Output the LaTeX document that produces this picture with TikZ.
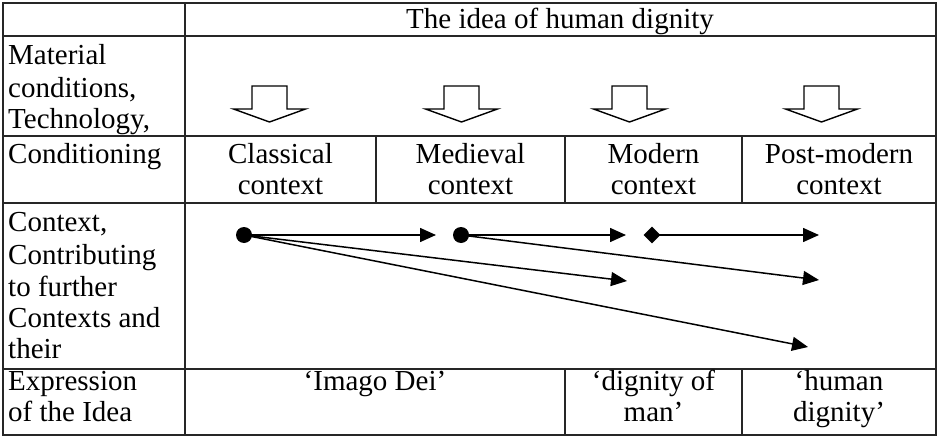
\documentclass[tikz,border=0pt]{standalone}
\usepackage{fontspec}
\setmainfont{Liberation Serif}
\usetikzlibrary{arrows.meta,shapes.geometric}
\begin{document}
\begin{tikzpicture}[x=1pt,y=-1pt,
  grid/.style={line width=1.4pt,draw=black!85},
  txt/.style={inner sep=0pt,anchor=base,font=\fontsize{29}{32}\selectfont},
  ltxt/.style={txt,anchor=base west},
  dnarrow/.style={line width=1.4pt,draw=black,fill=white,line join=miter},
  conn/.style={line width=1.5pt,-{Triangle[length=16pt,width=14pt]}},
  dot/.style={circle,fill=black,inner sep=0pt,minimum size=16pt},
  dia/.style={diamond,fill=black,inner sep=0pt,minimum size=17pt}]
\useasboundingbox (0,0) rectangle (939,436);
% table grid
\draw[grid] (3,3) rectangle (936,435);
\draw[grid] (185,3) -- (185,435);
\foreach \yy in {36,136,203,369} \draw[grid] (3,\yy) -- (936,\yy);
\foreach \xx in {376,565,742} \draw[grid] (\xx,136) -- (\xx,203);
\foreach \xx in {565,742} \draw[grid] (\xx,369) -- (\xx,435);
% title
\node[txt] (title) at (560,29) {The idea of human dignity};
% left column
\node[ltxt] (l1) at (8,65) {Material};
\node[ltxt] (l2) at (8,97) {conditions,};
\node[ltxt] (l3) at (8,128) {Technology,};
\node[ltxt] (l4) at (8,163) {Conditioning};
\node[ltxt] (l5) at (8,231) {Context,};
\node[ltxt] (l6) at (8,264) {Contributing};
\node[ltxt] (l7) at (8,296) {to further};
\node[ltxt] (l8) at (8,327) {Contexts and};
\node[ltxt] (l9) at (8,358) {their};
\node[ltxt] (l10) at (8,390) {Expression};
\node[ltxt] (l11) at (8,421) {of the Idea};
% contexts
\node[txt] (c1a) at (280.5,163) {Classical};
\node[txt] (c1b) at (280.5,194) {context};
\node[txt] (c2a) at (470.5,163) {Medieval};
\node[txt] (c2b) at (470.5,194) {context};
\node[txt] (c3a) at (653.5,163) {Modern};
\node[txt] (c3b) at (653.5,194) {context};
\node[txt] (c4a) at (839,163) {Post-modern};
\node[txt] (c4b) at (839,194) {context};
% expressions
\node[txt] (x1) at (375,390) {‘Imago Dei’};
\node[txt] (x2a) at (653.5,390) {‘dignity of};
\node[txt] (x2b) at (653.5,421) {man’};
\node[txt] (x3a) at (839,390) {‘human};
\node[txt] (x3b) at (839,421) {dignity’};
% down arrows
\foreach \cx in {269.5,461.5,629.5,821.5}
  \draw[dnarrow] (\cx-17.5,86) -- (\cx+17.5,86) -- (\cx+17.5,109) -- (\cx+36,109)
     -- (\cx,122) -- (\cx-36,109) -- (\cx-17.5,109) -- cycle;
% dots
\node[dot] (d1) at (244,235) {};
\node[dot] (d2) at (461,235) {};
\node[dia] (dm) at (652,235) {};
\coordinate (e1) at (436,235);
\coordinate (e2) at (626,235);
\coordinate (e3) at (819,235);
\coordinate (e4) at (819,280);
\coordinate (e5) at (627,281);
\coordinate (e6) at (808,347);
\draw[conn] (d1.center) -- (e1);
\draw[conn] (d2.center) -- (e2);
\draw[conn] (dm.center) -- (e3);
\draw[conn] (d2.center) -- (e4);
\draw[conn] (d1.center) -- (e5);
\draw[conn] (d1.center) -- (e6);
\end{tikzpicture}
\end{document}
